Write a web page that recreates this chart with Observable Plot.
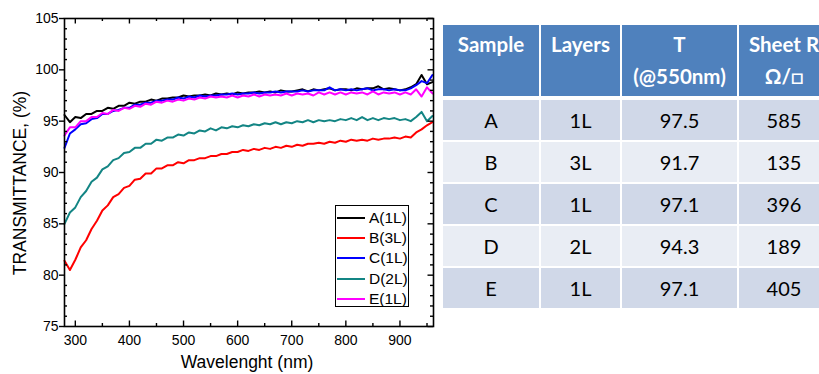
<!DOCTYPE html>
<html>
<head>
<meta charset="utf-8">
<script src="https://cdn.jsdelivr.net/npm/d3@7"></script>
<script src="https://cdn.jsdelivr.net/npm/@observablehq/plot@0.6"></script>
<style>
  html, body { margin: 0; padding: 0; background: #fff; }
  #page { position: relative; width: 819px; height: 374px; overflow: hidden; background: #fff; }
  #chart { position: absolute; left: 0; top: 0; }
  #chart svg text { font-size: 14px; font-family: "Liberation Sans", Arial, sans-serif; fill: #000; }
  .axis-title { position: absolute; font-family: "Liberation Sans", Arial, sans-serif; font-size: 17.5px; color: #000; white-space: nowrap; }
  #xtitle { left: 247px; top: 362px; transform: translate(-50%, -50%); }
  #ytitle { left: 20px; top: 183px; transform: translate(-50%, -50%) rotate(-90deg); }
  #legend { position: absolute; left: 335px; top: 205px; width: 74px; height: 102px; border: 1px solid #000; background: #fff;
            font-family: "Liberation Sans", Arial, sans-serif; font-size: 15.5px; color: #000; box-sizing: border-box; padding-top: 2px; }
  #legend .row { display: flex; align-items: center; height: 20.2px; }
  #legend .sw { width: 28px; height: 0; border-top: 2px solid #000; margin-left: 1px; margin-right: 4px; }
  #tbl { position: absolute; left: 443px; top: 25px; border-collapse: separate; border-spacing: 0; table-layout: fixed;
         font-family: Lato, "Open Sans", sans-serif; }
  #tbl th { background: #4F81BD; color: #fff; font-weight: bold; font-size: 20.5px; line-height: 32px; vertical-align: top;
            padding: 3px 0 0 0; height: 68px; border-right: 2px solid #fff; border-bottom: 4px solid #fff; text-align: center; white-space: nowrap; }
  #tbl td { font-size: 20px; color: #000; text-align: center; height: 40px; padding: 0; border-right: 2px solid #fff; border-bottom: 2px solid #fff; }
  #tbl tr.odd td { background: #D0D8E8; }
  #tbl tr.even td { background: #E9EDF4; }
</style>
</head>
<body>
<div id="page">
  <div id="chart"></div>
  <div class="axis-title" id="xtitle"></div>
  <div class="axis-title" id="ytitle"></div>
  <div id="legend"></div>
  <table id="tbl"></table>
</div>
<script>
// ---------- Data ----------
const wavelength = [
  280, 290, 300, 310, 320, 330, 340, 350, 360, 370,
  380, 390, 400, 410, 420, 430, 440, 450, 460, 470,
  480, 490, 500, 510, 520, 530, 540, 550, 560, 570,
  580, 590, 600, 610, 620, 630, 640, 650, 660, 670,
  680, 690, 700, 710, 720, 730, 740, 750, 760, 770,
  780, 790, 800, 810, 820, 830, 840, 850, 860, 870,
  880, 890, 900, 910, 920, 930, 940, 950, 960
];
const seriesA = [
  95.6, 94.9, 95.4, 95.3, 95.7, 95.7, 96.0, 96.0, 96.3, 96.2,
  96.5, 96.5, 96.8, 96.7, 96.9, 96.9, 97.1, 97.0, 97.2, 97.2,
  97.3, 97.3, 97.5, 97.4, 97.5, 97.5, 97.6, 97.5, 97.7, 97.6,
  97.7, 97.6, 97.8, 97.7, 97.8, 97.8, 97.9, 97.8, 97.9, 97.8,
  98.0, 97.9, 97.9, 98.0, 98.1, 97.9, 98.1, 98.0, 98.1, 98.2,
  98.0, 98.1, 98.1, 98.0, 98.2, 98.1, 98.2, 98.2, 98.4, 98.1,
  98.2, 98.1, 98.0, 98.1, 98.3, 98.6, 99.5, 98.6, 98.8
];
const seriesB = [
  81.4, 80.5, 81.5, 82.7, 83.4, 84.5, 85.3, 86.3, 86.8, 87.6,
  87.9, 88.5, 88.7, 89.3, 89.4, 89.9, 89.9, 90.4, 90.4, 90.7,
  90.7, 91.0, 90.9, 91.2, 91.2, 91.4, 91.4, 91.6, 91.6, 91.8,
  91.8, 92.0, 92.0, 92.2, 92.1, 92.3, 92.2, 92.4, 92.3, 92.5,
  92.4, 92.6, 92.5, 92.7, 92.6, 92.8, 92.8, 92.9, 92.8, 93.0,
  92.9, 93.1, 93.0, 93.2, 93.1, 93.2, 93.1, 93.3, 93.2, 93.3,
  93.3, 93.4, 93.3, 93.5, 93.4, 93.9, 94.2, 94.6, 94.9
];
const seriesC = [
  92.4, 93.8, 94.2, 94.7, 94.8, 95.2, 95.3, 95.7, 95.7, 96.0,
  96.1, 96.3, 96.3, 96.6, 96.6, 96.8, 96.8, 97.0, 97.0, 97.1,
  97.1, 97.3, 97.2, 97.4, 97.3, 97.5, 97.4, 97.5, 97.5, 97.6,
  97.6, 97.7, 97.6, 97.7, 97.7, 97.8, 97.7, 97.8, 97.8, 97.9,
  97.8, 97.9, 97.9, 97.9, 98.0, 97.9, 98.0, 98.0, 98.0, 98.3,
  98.0, 98.1, 98.0, 98.1, 98.0, 98.1, 98.2, 98.0, 98.1, 98.1,
  98.0, 98.1, 98.0, 98.0, 98.2, 98.5, 98.9, 98.7, 99.5
];
const seriesD = [
  85.0, 86.1, 86.6, 87.6, 88.2, 89.1, 89.5, 90.3, 90.6, 91.2,
  91.4, 91.9, 92.0, 92.4, 92.4, 92.8, 92.8, 93.2, 93.1, 93.4,
  93.4, 93.7, 93.6, 93.9, 93.8, 94.1, 94.0, 94.3, 94.1, 94.4,
  94.3, 94.5, 94.4, 94.6, 94.5, 94.7, 94.6, 94.8, 94.7, 94.9,
  94.7, 94.9, 94.8, 95.0, 94.9, 95.1, 94.9, 95.1, 95.0, 95.1,
  95.0, 95.2, 95.1, 95.3, 95.1, 95.4, 95.1, 95.3, 95.1, 95.3,
  95.2, 95.3, 95.1, 95.2, 95.0, 95.4, 95.9, 95.0, 95.5
];
const seriesE = [
  93.6, 94.4, 94.4, 95.0, 95.0, 95.4, 95.4, 95.8, 95.7, 96.1,
  96.0, 96.3, 96.2, 96.5, 96.4, 96.7, 96.6, 96.9, 96.8, 97.0,
  96.9, 97.1, 97.0, 97.2, 97.1, 97.3, 97.2, 97.4, 97.3, 97.4,
  97.3, 97.5, 97.3, 97.5, 97.4, 97.6, 97.4, 97.6, 97.5, 97.6,
  97.5, 97.7, 97.5, 97.7, 97.6, 97.7, 97.5, 97.8, 97.6, 97.8,
  97.6, 97.8, 97.6, 97.8, 97.7, 97.8, 97.6, 97.9, 97.6, 97.8,
  97.7, 97.8, 97.6, 97.8, 97.6, 98.1, 97.4, 98.3, 97.7
];
const seriesNames = ["A(1L)", "B(3L)", "C(1L)", "D(2L)", "E(1L)"];
const seriesColors = ["#000000", "#FF0000", "#0000FF", "#138584", "#FF00FF"];
const seriesValues = [seriesA, seriesB, seriesC, seriesD, seriesE];

const xMajorTicks = [300, 400, 500, 600, 700, 800, 900];
const xMinorTicks = [350, 450, 550, 650, 750, 850, 950];
const yMajorTicks = [75, 80, 85, 90, 95, 100, 105];
const yMinorTicks = [76, 77, 78, 79, 81, 82, 83, 84, 86, 87, 88, 89, 91, 92, 93, 94,
                     96, 97, 98, 99, 101, 102, 103, 104];
const xTitle = "Wavelenght (nm)";
const yTitle = "TRANSMITTANCE, (%)";

const tableHeader = ["Sample", "Layers", "T<br>(@550nm)", "Sheet R<br>Ω/□"];
const tableSample = ["A", "B", "C", "D", "E"];
const tableLayers = ["1L", "3L", "1L", "2L", "1L"];
const tableT = ["97.5", "91.7", "97.1", "94.3", "97.1"];
const tableR = ["585", "135", "396", "189", "405"];

// ---------- Chart ----------
const W = 440, H = 374, mL = 64, mR = 7, mT = 18, mB = 48;
const innerW = W - mL - mR, innerH = H - mT - mB;
const majorLen = 5.5, minorLen = 3;

const lineMarks = seriesValues.map((vals, k) =>
  Plot.lineY(wavelength.map((w, i) => ({w, t: vals[i]})), {
    x: "w", y: "t", stroke: seriesColors[k], strokeWidth: 2
  })
);

const tickStyle = {stroke: "#000", strokeWidth: 1.4};
const chart = Plot.plot({
  width: W, height: H,
  marginLeft: mL, marginRight: mR, marginTop: mT, marginBottom: mB,
  x: {domain: [280, 962]},
  y: {domain: [75, 105]},
  style: {fontFamily: "'Liberation Sans', Arial, sans-serif", fontSize: "14px", color: "#000", background: "transparent"},
  marks: [
    ...lineMarks,
    // bottom & top: ticks pointing inward
    Plot.ruleX(xMajorTicks, {x: d => d, insetTop: innerH - majorLen, ...tickStyle}),
    Plot.ruleX(xMajorTicks, {x: d => d, insetBottom: innerH - majorLen, ...tickStyle}),
    Plot.ruleX(xMinorTicks, {x: d => d, insetTop: innerH - minorLen, ...tickStyle}),
    Plot.ruleX(xMinorTicks, {x: d => d, insetBottom: innerH - minorLen, ...tickStyle}),
    // left: minor inward, major outward (axis); right: all inward
    Plot.ruleY(yMinorTicks, {y: d => d, insetRight: innerW - minorLen, ...tickStyle}),
    Plot.ruleY(yMajorTicks, {y: d => d, insetLeft: innerW - majorLen, ...tickStyle}),
    Plot.ruleY(yMinorTicks, {y: d => d, insetLeft: innerW - minorLen, ...tickStyle}),
    Plot.frame({stroke: "#000", strokeWidth: 1.6}),
    Plot.axisX(xMajorTicks, {tickSize: 0, tickPadding: 9, label: null}),
    Plot.axisY(yMajorTicks, {tickSize: 5, tickPadding: 1, label: null, strokeWidth: 1.4})
  ]
});
document.getElementById("chart").appendChild(chart);
document.getElementById("xtitle").textContent = xTitle;
document.getElementById("ytitle").textContent = yTitle;

// ---------- Legend ----------
const legend = document.getElementById("legend");
seriesNames.forEach((name, k) => {
  const row = document.createElement("div");
  row.className = "row";
  const sw = document.createElement("span");
  sw.className = "sw";
  sw.style.borderTopColor = seriesColors[k];
  const tx = document.createElement("span");
  tx.textContent = name;
  row.appendChild(sw); row.appendChild(tx);
  legend.appendChild(row);
});

// ---------- Table ----------
const colWidths = [98, 81, 117, 92];
const tbl = document.getElementById("tbl");
let html = "<colgroup>" + colWidths.map(w => `<col style="width:${w}px">`).join("") + "</colgroup>";
html += "<tr>" + tableHeader.map(h => `<th>${h}</th>`).join("") + "</tr>";
tableSample.forEach((s, i) => {
  html += `<tr class="${i % 2 === 0 ? "odd" : "even"}"><td>${s}</td><td>${tableLayers[i]}</td><td>${tableT[i]}</td><td>${tableR[i]}</td></tr>`;
});
tbl.innerHTML = html;
tbl.style.width = colWidths.reduce((a, b) => a + b, 0) + "px";
</script>
</body>
</html>
